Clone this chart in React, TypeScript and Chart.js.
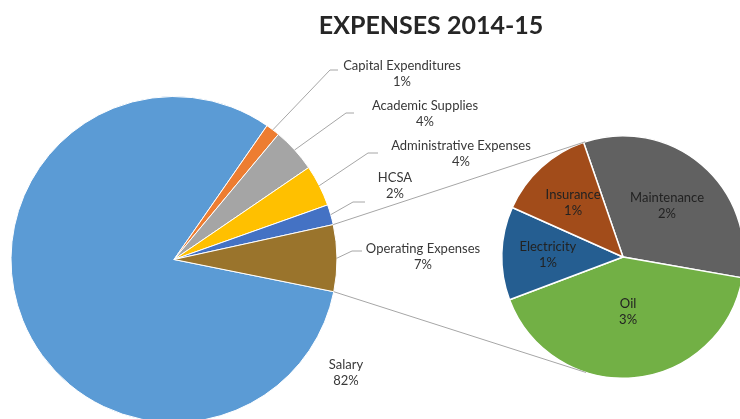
import React, { useEffect, useRef } from "react";
import { Chart, registerables } from "chart.js";

Chart.register(...registerables);

// ---- data ----
const TITLE = "EXPENSES 2014-15";
const mainCategories = [
  "Salary",
  "Capital Expenditures",
  "Academic Supplies",
  "Administrative Expenses",
  "HCSA",
  "Operating Expenses",
];
const mainValues = [81.5, 1.4, 4.4, 4.1, 2.0, 6.6];
const subCategories = ["Maintenance", "Oil", "Electricity", "Insurance"];
const subValues = [2.18, 2.74, 0.82, 0.86];

// ---- styles ----
const mainColors = ["#5B9BD5", "#ED7D31", "#A5A5A5", "#FFC000", "#4472C4", "#9A742C"];
const subColors = ["#616161", "#72B045", "#255E91", "#A24C1A"];
const TEXT_COLOR = "#383838";
const LINE_COLOR = "#A6A6A6";
const LABEL_FONT = "13px Lato";
const W = 750;
const H = 430;

// label layout for the main pie: text centre, optional leader elbow + end
const mainLabelLayout = [
  { tx: 346, ty: 365, elbow: null as null | number[], end: null as null | number[] },
  { tx: 402, ty: 66, elbow: [330, 70], end: [338, 70] },
  { tx: 425, ty: 106, elbow: [346, 113], end: [354, 113] },
  { tx: 461, ty: 146, elbow: [368, 153], end: [378, 153] },
  { tx: 395, ty: 178, elbow: [353, 202], end: [365, 202] },
  { tx: 423, ty: 249, elbow: [352, 251], end: [362, 251] },
];
// radial position factor of the inside labels of the second pie
const subLabelRadius = [0.56, 0.45, 0.62, 0.61];

const total = mainValues.reduce((a, b) => a + b, 0);
const pct = (v: number) => Math.round((v / total) * 100) + "%";

export default function App() {
  const bigRef = useRef<HTMLCanvasElement>(null);
  const smallRef = useRef<HTMLCanvasElement>(null);

  useEffect(() => {
    const bigLabels = {
      id: "bigLabels",
      afterDraw(chart: any) {
        const ctx = chart.ctx as CanvasRenderingContext2D;
        const arcs = chart.getDatasetMeta(0).data;
        ctx.save();
        ctx.fillStyle = "#262626";
        ctx.textAlign = "center";
        ctx.textBaseline = "middle";
        ctx.font = "bold 25px Lato";
        ctx.fillText(TITLE, 431, 26);

        ctx.font = LABEL_FONT;
        mainLabelLayout.forEach((lay, i) => {
          const arc = arcs[i];
          const mid = (arc.startAngle + arc.endAngle) / 2;
          if (lay.elbow && lay.end) {
            const sx = arc.x + Math.cos(mid) * arc.outerRadius;
            const sy = arc.y + Math.sin(mid) * arc.outerRadius;
            ctx.strokeStyle = LINE_COLOR;
            ctx.lineWidth = 1;
            ctx.beginPath();
            ctx.moveTo(sx, sy);
            ctx.lineTo(lay.elbow[0], lay.elbow[1]);
            ctx.lineTo(lay.end[0], lay.end[1]);
            ctx.stroke();
          }
          ctx.fillStyle = TEXT_COLOR;
          ctx.fillText(mainCategories[i], lay.tx, lay.ty);
          ctx.fillText(pct(mainValues[i]), lay.tx, lay.ty + 16);
        });
        ctx.restore();
      },
    };

    const big = new Chart(bigRef.current!, {
      type: "pie",
      data: {
        labels: mainCategories,
        datasets: [
          {
            data: mainValues,
            backgroundColor: mainColors,
            borderColor: "#ffffff",
            borderWidth: 1,
          },
        ],
      },
      options: {
        animation: false,
        responsive: false,
        rotation: 101.4,
        layout: { padding: { left: 10, top: 96, right: W - 338, bottom: H - 423 } },
        plugins: { legend: { display: false }, tooltip: { enabled: false }, title: { display: false } },
      },
      plugins: [bigLabels],
    });

    const smallLabels = {
      id: "smallLabels",
      afterDraw(chart: any) {
        const ctx = chart.ctx as CanvasRenderingContext2D;
        const arcs = chart.getDatasetMeta(0).data;
        const bigArcs = big.getDatasetMeta(0).data as any[];
        const other = bigArcs[mainCategories.length - 1];
        const c = arcs[0];
        const cx = c.x, cy = c.y, r = c.outerRadius;
        ctx.save();
        // connector lines (tangents from the "other" slice edges to the second pie)
        const tangent = (px: number, py: number, upper: boolean) => {
          const dx = px - cx, dy = py - cy;
          const d = Math.hypot(dx, dy);
          const phi = Math.atan2(dy, dx);
          const beta = Math.acos(r / d);
          const a = [phi + beta, phi - beta].map((t) => [cx + r * Math.cos(t), cy + r * Math.sin(t)]);
          a.sort((p, q) => p[1] - q[1]);
          return upper ? a[0] : a[1];
        };
        const p1 = [other.x + other.outerRadius * Math.cos(other.startAngle), other.y + other.outerRadius * Math.sin(other.startAngle)];
        const p2 = [other.x + other.outerRadius * Math.cos(other.endAngle), other.y + other.outerRadius * Math.sin(other.endAngle)];
        const t1 = tangent(p1[0], p1[1], true);
        const t2 = tangent(p2[0], p2[1], false);
        ctx.strokeStyle = LINE_COLOR;
        ctx.lineWidth = 1;
        ctx.beginPath();
        ctx.moveTo(p1[0], p1[1]);
        ctx.lineTo(t1[0], t1[1]);
        ctx.moveTo(p2[0], p2[1]);
        ctx.lineTo(t2[0], t2[1]);
        ctx.stroke();

        ctx.font = LABEL_FONT;
        ctx.fillStyle = "#222222";
        ctx.textAlign = "center";
        ctx.textBaseline = "middle";
        arcs.forEach((arc: any, i: number) => {
          const mid = (arc.startAngle + arc.endAngle) / 2;
          const rr = arc.outerRadius * subLabelRadius[i];
          const x = arc.x + Math.cos(mid) * rr;
          const y = arc.y + Math.sin(mid) * rr;
          ctx.fillText(subCategories[i], x, y - 8);
          ctx.fillText(pct(subValues[i]), x, y + 8);
        });
        ctx.restore();
      },
    };

    const small = new Chart(smallRef.current!, {
      type: "pie",
      data: {
        labels: subCategories,
        datasets: [
          {
            data: subValues,
            backgroundColor: subColors,
            borderColor: "#ffffff",
            borderWidth: 1.5,
          },
        ],
      },
      options: {
        animation: false,
        responsive: false,
        rotation: -19,
        layout: { padding: { left: 501, top: 135, right: W - 745, bottom: H - 379 } },
        plugins: { legend: { display: false }, tooltip: { enabled: false }, title: { display: false } },
      },
      plugins: [smallLabels],
    });

    return () => {
      small.destroy();
      big.destroy();
    };
  }, []);

  const canvasStyle: React.CSSProperties = { position: "absolute", left: 0, top: 0, width: W, height: H };
  return (
    <div style={{ position: "fixed", left: 0, top: 0, width: 740, height: 419, overflow: "hidden", background: "#ffffff" }}>
      <canvas ref={bigRef} width={W} height={H} style={canvasStyle} />
      <canvas ref={smallRef} width={W} height={H} style={canvasStyle} />
    </div>
  );
}
